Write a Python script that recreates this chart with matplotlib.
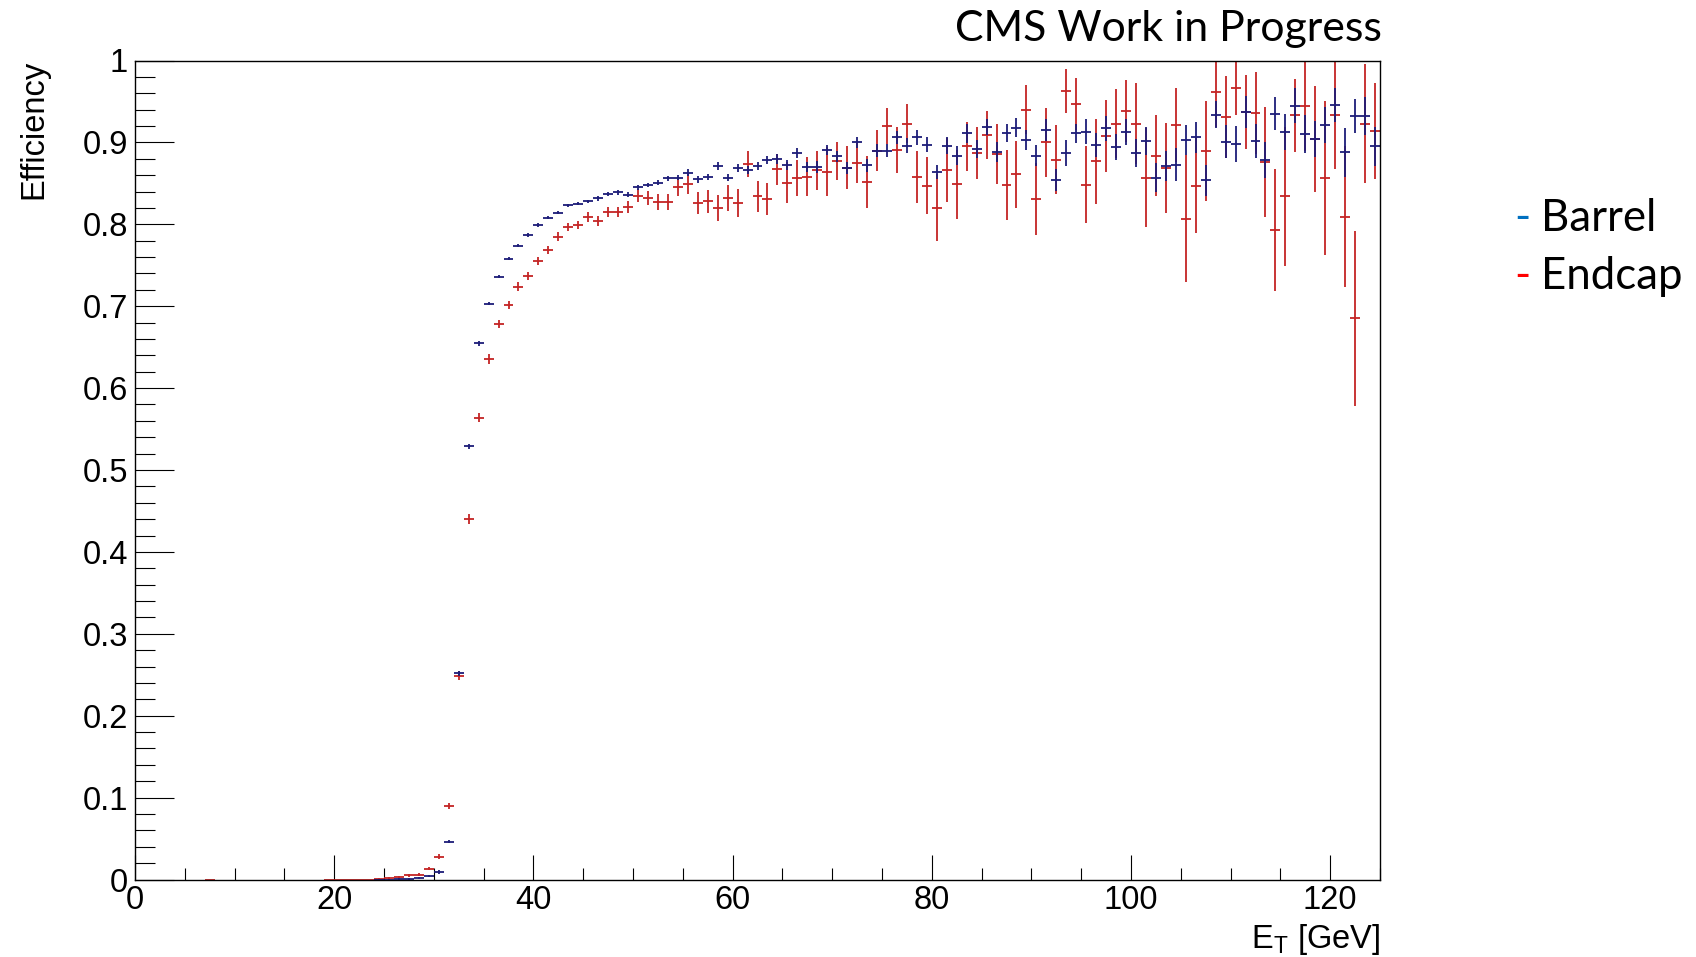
"""Trigger efficiency vs E_T, barrel and endcap (ROOT-style canvas)."""
import numpy as np
import matplotlib
matplotlib.use("Agg")
import matplotlib.pyplot as plt
from matplotlib.ticker import MultipleLocator, FuncFormatter

plt.rcParams['font.family'] = ['Liberation Sans', 'DejaVu Sans']
plt.rcParams['mathtext.fontset'] = 'custom'
plt.rcParams['mathtext.rm'] = 'Liberation Sans'

W, H = 1696, 957

# ---- data (1 GeV bins, value per bin centre) ----
BARREL_FIRST = 24.5
barrel_eff = [
    0.000, 0.000, 0.001, 0.001, 0.002, 0.004, 0.009, 0.046, 0.252, 0.529,   # 24.5-33.5
    0.655, 0.703, 0.736, 0.758, 0.774, 0.787, 0.799, 0.808, 0.814, 0.823,   # 34.5-43.5
    0.825, 0.828, 0.832, 0.837, 0.839, 0.836, 0.845, 0.848, 0.851, 0.856,   # 44.5-53.5
    0.857, 0.863, 0.855, 0.858, 0.871, 0.857, 0.869, 0.866, 0.871, 0.879,   # 54.5-63.5
    0.880, 0.872, 0.887, 0.870, 0.870, 0.891, 0.883, 0.869, 0.900, 0.872,   # 64.5-73.5
    0.890, 0.890, 0.906, 0.896, 0.906, 0.897, 0.864, 0.896, 0.884, 0.911,   # 74.5-83.5
    0.892, 0.919, 0.888, 0.911, 0.918, 0.903, 0.884, 0.915, 0.854, 0.887,   # 84.5-93.5
    0.911, 0.913, 0.897, 0.917, 0.894, 0.913, 0.887, 0.902, 0.857, 0.871,   # 94.5-103.5
    0.873, 0.903, 0.906, 0.854, 0.934, 0.901, 0.898, 0.937, 0.902, 0.878,   # 104.5-113.5
    0.935, 0.913, 0.945, 0.910, 0.904, 0.921, 0.946, 0.888, 0.932, 0.932,   # 114.5-123.5
    0.895,                                                                  # 124.5
]
barrel_err = [
    0.001, 0.001, 0.001, 0.001, 0.001, 0.001, 0.002, 0.002, 0.003, 0.003,
    0.003, 0.002, 0.002, 0.002, 0.002, 0.002, 0.002, 0.002, 0.002, 0.002,
    0.002, 0.002, 0.003, 0.003, 0.003, 0.003, 0.003, 0.003, 0.003, 0.003,
    0.003, 0.004, 0.004, 0.004, 0.005, 0.004, 0.005, 0.005, 0.005, 0.005,
    0.006, 0.006, 0.006, 0.006, 0.007, 0.006, 0.007, 0.007, 0.007, 0.008,
    0.008, 0.008, 0.008, 0.009, 0.009, 0.009, 0.009, 0.010, 0.011, 0.012,
    0.011, 0.010, 0.012, 0.011, 0.012, 0.012, 0.013, 0.013, 0.013, 0.016,
    0.012, 0.015, 0.015, 0.015, 0.016, 0.016, 0.017, 0.017, 0.018, 0.018,
    0.020, 0.018, 0.019, 0.019, 0.016, 0.020, 0.022, 0.020, 0.021, 0.022,
    0.020, 0.022, 0.021, 0.023, 0.022, 0.022, 0.021, 0.030, 0.021, 0.023,
    0.024,
]

ENDCAP_LOW_BIN = 7.5
ENDCAP_FIRST = 19.5
endcap_eff = [
    0.000,                                                                  # 7.5
    0.000, 0.000, 0.000, 0.000, 0.000, 0.001, 0.002, 0.003, 0.005, 0.006,   # 19.5-28.5
    0.013, 0.028, 0.090, 0.249, 0.440, 0.564, 0.636, 0.678, 0.701, 0.724,   # 29.5-38.5
    0.737, 0.755, 0.769, 0.785, 0.797, 0.799, 0.809, 0.804, 0.815, 0.815,   # 39.5-48.5
    0.821, 0.835, 0.832, 0.827, 0.827, 0.846, 0.849, 0.826, 0.828, 0.820,   # 49.5-58.5
    0.832, 0.826, 0.874, 0.834, 0.831, 0.867, 0.851, 0.856, 0.858, 0.866,   # 59.5-68.5
    0.864, 0.877, 0.869, 0.875, 0.852, 0.890, 0.920, 0.891, 0.923, 0.858,   # 69.5-78.5
    0.847, 0.820, 0.866, 0.849, 0.895, 0.887, 0.909, 0.886, 0.848, 0.861,   # 79.5-88.5
    0.940, 0.831, 0.900, 0.879, 0.963, 0.947, 0.848, 0.877, 0.908, 0.923,   # 89.5-98.5
    0.938, 0.923, 0.857, 0.884, 0.869, 0.921, 0.807, 0.847, 0.889, 0.961,   # 99.5-108.5
    0.931, 0.967, 0.937, 0.936, 0.876, 0.793, 0.834, 0.933, 0.945, 0.904,   # 109.5-118.5
    0.857, 0.933, 0.809, 0.685, 0.923, 0.914,                               # 119.5-124.5
]
endcap_err = [
    0.000,
    0.000, 0.000, 0.000, 0.000, 0.000, 0.001, 0.001, 0.001, 0.002, 0.002,
    0.002, 0.003, 0.004, 0.005, 0.006, 0.006, 0.006, 0.005, 0.005, 0.005,
    0.005, 0.005, 0.005, 0.005, 0.005, 0.005, 0.006, 0.006, 0.006, 0.006,
    0.007, 0.008, 0.009, 0.010, 0.010, 0.012, 0.012, 0.014, 0.014, 0.016,
    0.016, 0.017, 0.016, 0.019, 0.020, 0.019, 0.025, 0.022, 0.024, 0.024,
    0.030, 0.023, 0.026, 0.024, 0.032, 0.025, 0.022, 0.028, 0.024, 0.032,
    0.035, 0.041, 0.039, 0.042, 0.030, 0.032, 0.029, 0.037, 0.043, 0.041,
    0.030, 0.044, 0.042, 0.042, 0.027, 0.032, 0.047, 0.052, 0.044, 0.042,
    0.038, 0.049, 0.060, 0.050, 0.055, 0.045, 0.078, 0.058, 0.061, 0.042,
    0.050, 0.033, 0.045, 0.050, 0.067, 0.075, 0.085, 0.045, 0.055, 0.065,
    0.094, 0.065, 0.086, 0.107, 0.073, 0.059,
]

BIN_HALF = 0.5
BARREL_COLOR = '#1c1c78'
ENDCAP_COLOR = '#c42424'


def bin_centres(first, n):
    return first + np.arange(n)


def main():
    bx = bin_centres(BARREL_FIRST, len(barrel_eff))
    ex = np.concatenate([[ENDCAP_LOW_BIN],
                         bin_centres(ENDCAP_FIRST, len(endcap_eff) - 1)])

    fig = plt.figure(figsize=(W / 100, H / 100), dpi=100)
    ax = fig.add_axes([135 / W, 77.5 / H, 1245 / W, 819 / H])

    ax.errorbar(ex, endcap_eff, yerr=endcap_err, xerr=BIN_HALF, fmt='none',
                ecolor=ENDCAP_COLOR, elinewidth=1.3, capsize=0)
    ax.errorbar(bx, barrel_eff, yerr=barrel_err, xerr=BIN_HALF, fmt='none',
                ecolor=BARREL_COLOR, elinewidth=1.3, capsize=0)

    ax.set_xlim(0, 125)
    ax.set_ylim(0, 1)
    ax.xaxis.set_major_locator(MultipleLocator(20))
    ax.xaxis.set_minor_locator(MultipleLocator(5))
    ax.yaxis.set_major_locator(MultipleLocator(0.1))
    ax.yaxis.set_minor_locator(MultipleLocator(0.02))
    ax.yaxis.set_major_formatter(FuncFormatter(lambda v, p: f'{v:g}'))
    ax.xaxis.set_major_formatter(FuncFormatter(lambda v, p: f'{v:g}'))

    ax.tick_params(which='both', direction='in', top=False, right=False,
                   width=0.8, colors='black', labelsize=23.5)
    ax.tick_params(axis='y', which='major', length=28, pad=5)
    ax.tick_params(axis='y', which='minor', length=14.4)
    ax.tick_params(axis='x', which='major', length=18, pad=4)
    ax.tick_params(axis='x', which='minor', length=9)
    for s in ax.spines.values():
        s.set_linewidth(1.0)

    fig.text(34 / W, 1 - 60 / H, 'Efficiency', rotation=90, ha='center',
             va='top', fontsize=23.5)
    fig.text(1380 / W, 1 - 948 / H, r'E$_{\rm T}$ [GeV]', ha='right',
             va='baseline', fontsize=23.5)

    fig.text(1382 / W, 1 - 41 / H, 'CMS Work in Progress', ha='right',
             va='baseline', family='Lato', fontsize=30.8)

    # slide-style legend: coloured dash + label
    for label, colour, base in [('Barrel', '#0070C0', 231),
                                ('Endcap', '#FF0000', 289)]:
        fig.text(1514 / W, 1 - base / H, '-', color=colour, family='Lato',
                 fontsize=31.5, va='baseline')
        fig.text(1541 / W, 1 - base / H, label, family='Lato', fontsize=31.5,
                 va='baseline')

    fig.savefig('out.png', dpi=100)


if __name__ == '__main__':
    main()
